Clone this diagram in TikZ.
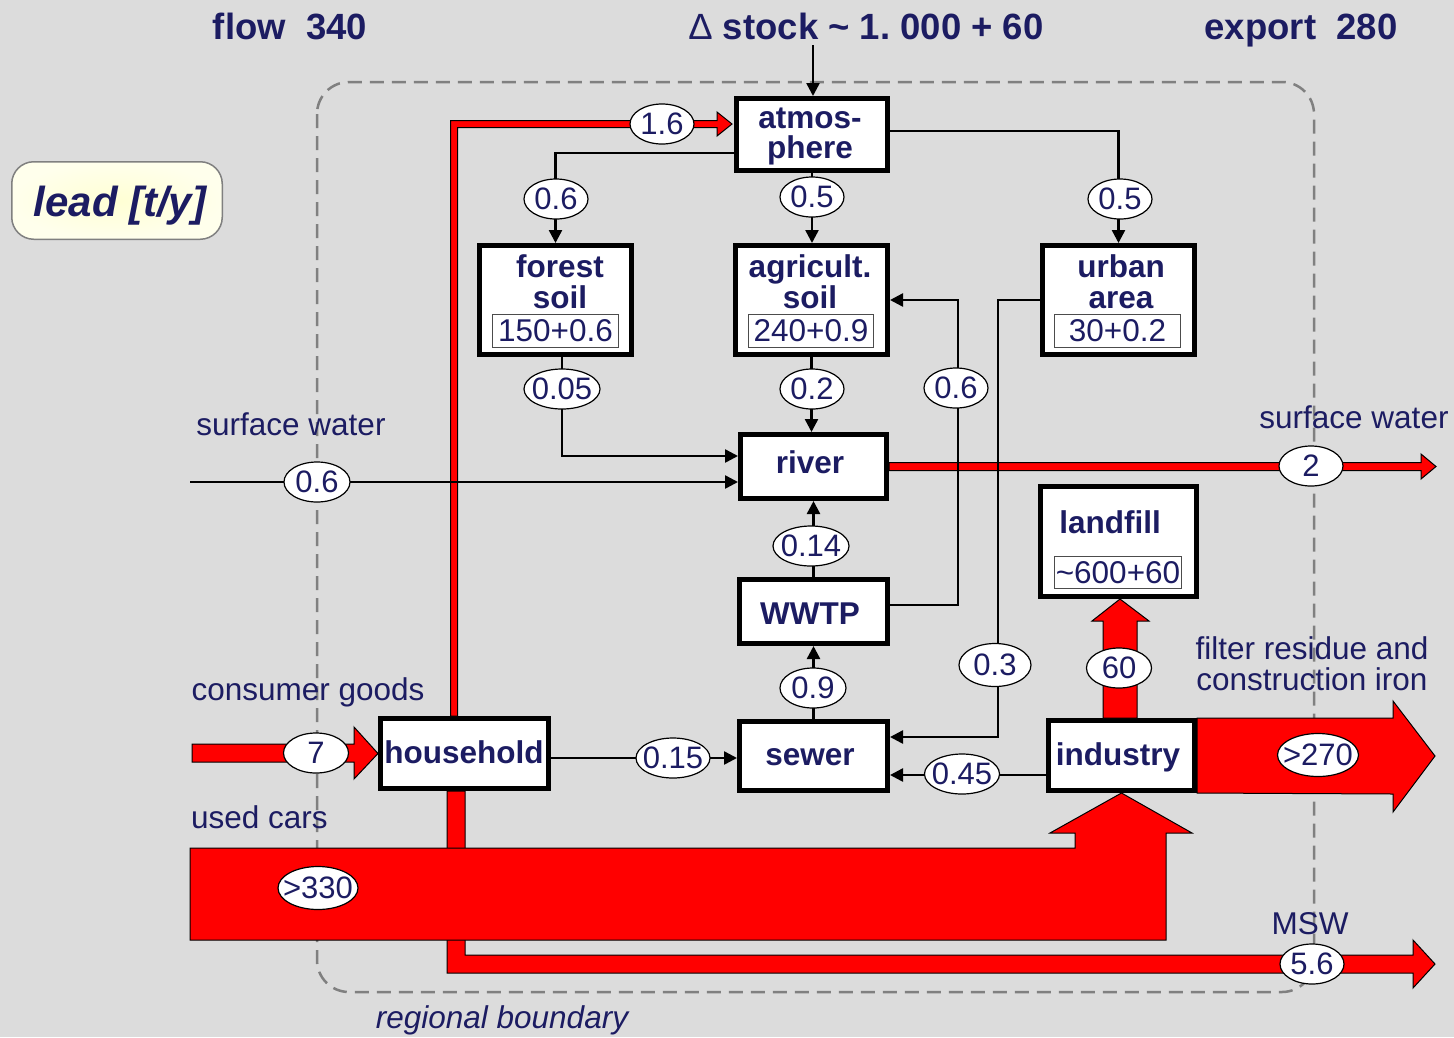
\documentclass[tikz,border=0pt]{standalone}
\usepackage{fontspec}
\setmainfont{Liberation Sans}
\usetikzlibrary{arrows.meta,shapes.geometric,calc}
\definecolor{navy}{RGB}{28,28,98}
\definecolor{bggray}{RGB}{220,220,220}
\definecolor{bndgray}{RGB}{128,128,128}
\definecolor{leadfill}{RGB}{255,255,212}
\definecolor{leadedge}{RGB}{255,255,236}
\newcommand\fsz[1]{\fontsize{#1}{#1}\selectfont}
\newcommand\zw[1]{\makebox[0pt]{#1}}
\begin{document}
\begin{tikzpicture}[x=1pt,y=-1pt,
  box/.style={draw=black, line width=5pt, fill=white, inner sep=0pt},
  vbox/.style={draw=black!70, line width=1.2pt, fill=white, inner sep=0pt, text=navy, font=\fsz{31.5}},
  lbl/.style={text=navy, font=\bfseries\fsz{31.5}, inner sep=0pt, anchor=base},
  txt/.style={text=navy, font=\fsz{31.5}, inner sep=0pt, anchor=base},
  ttl/.style={text=navy, font=\bfseries\fsz{36.5}, inner sep=0pt, anchor=base},
  val/.style={ellipse, draw=black, line width=1.2pt, fill=white, inner sep=0pt, minimum height=40pt, minimum width=#1, text=navy, font=\fsz{31}},
  val/.default=64pt,
  flow/.style={draw=black, line width=2.5pt, -{Triangle[length=13pt,width=13pt]}},
  redflow/.style={fill=red, draw=black, line width=1pt, line join=miter}]
\fill[bggray] (0,0) rectangle (1454,1037);
\useasboundingbox (0,0) rectangle (1454,1037);

% regional boundary
\draw[bndgray, line width=2.5pt, dash pattern=on 14pt off 8pt, rounded corners=32pt] (317,82) rectangle (1314,992);

% titles
\node[ttl] (tflow) at (290,39) {flow\ \ 340};
\node[ttl] (tstock) at (866,39) {{\mdseries Δ} stock \textasciitilde{} 1.\ 000 + 60};
\node[ttl] (texport) at (1301,39) {export\ \ 280};

% lead box
\node[draw=bndgray, line width=1.5pt, rounded corners=22pt, inner color=leadfill, outer color=leadedge, minimum width=210.5pt, minimum height=77.5pt] (leadbox) at (117,200.5) {};
\node[anchor=base, inner sep=0pt, text=navy, font=\bfseries\itshape\fsz{42}] (lead) at (120,216) {lead [t/y]};

% process boxes
\node[box, minimum width=151pt, minimum height=72pt] (atm) at (812,134.5) {};
\node[box, minimum width=152pt, minimum height=109pt] (forest) at (555.5,300) {};
\node[box, minimum width=152pt, minimum height=109pt] (agri) at (811.5,300) {};
\node[box, minimum width=152pt, minimum height=109pt] (urban) at (1118.5,300) {};
\node[box, minimum width=146pt, minimum height=64pt] (river) at (813.5,466.5) {};
\node[box, minimum width=148pt, minimum height=64pt] (wwtp) at (813.5,611.5) {};
\node[box, minimum width=148pt, minimum height=69pt] (sewer) at (813.5,756) {};
\node[box, minimum width=146pt, minimum height=70pt] (industry) at (1121.5,755.5) {};
\node[box, minimum width=168pt, minimum height=70pt] (household) at (464.5,753.5) {};
\node[box, minimum width=156pt, minimum height=110pt] (landfill) at (1118.5,541.5) {};

% box labels
\node[lbl] (atmT1) at (810,128) {atmos-};
\node[lbl] (atmT2) at (810,158) {phere};
\node[lbl] (forT1) at (560,277) {forest};
\node[lbl] (forT2) at (560,308) {soil};
\node[lbl] (agrT1) at (810,277) {agricult.};
\node[lbl] (agrT2) at (810,308) {soil};
\node[lbl] (urbT1) at (1121,277) {urban};
\node[lbl] (urbT2) at (1121,308) {area};
\node[lbl] (rivT) at (810,473) {river};
\node[lbl] (wwtT) at (810,624) {WWTP};
\node[lbl] (sewT) at (810,765) {sewer};
\node[lbl] (indT) at (1118,765) {industry};
\node[lbl] (houT) at (464,763) {household};
\node[lbl] (lanT) at (1110,533) {landfill};

% stock boxes
\node[vbox, minimum width=126pt, minimum height=33pt] (forV) at (555.5,331) {150+0.6};
\node[vbox, minimum width=125pt, minimum height=33pt] (agrV) at (811,331) {240+0.9};
\node[vbox, minimum width=126pt, minimum height=33pt] (urbV) at (1117.5,331) {30+0.2};
\node[vbox, minimum width=127pt, minimum height=32pt] (lanV) at (1118,572.5) {\textasciitilde600+60};

% free texts
\node[txt] (swL) at (291,435) {surface water};
\node[txt] (swR) at (1354,428) {surface water};
\node[txt] (cg) at (308,700) {consumer goods};
\node[txt, anchor=base west] (uc) at (191,828) {used cars};
\node[txt] (fr1) at (1312,659) {filter residue and};
\node[txt] (fr2) at (1312,690) {construction iron};
\node[txt] (msw) at (1310,934) {MSW};
\node[txt, font=\itshape\fsz{31.5}] (rb) at (502,1028) {regional boundary};

% red flows
\filldraw[redflow] (household.south -| 447,0) -- (447,973) -- (1413,973) -- (1413,988) -- (1435,964) -- (1413,940) -- (1413,955) -- (465,955) -- (household.south -| 465,0) -- cycle;
\filldraw[redflow] (190,848) -- (1075,848) -- (1075,833) -- (1050,833) -- (industry.south) -- (1192,833) -- (1166,833) -- (1166,940) -- (190,940) -- cycle;
\filldraw[redflow] (192,744) -- (354,744) -- (354,727) -- (household.west) -- (354,779) -- (354,762) -- (192,762) -- cycle;
\filldraw[redflow] (industry.north east) -- (1393,718) -- (1393,701) -- (1435,756) -- (1393,812) -- (1393,794) -- (industry.south east) -- cycle;
\filldraw[redflow] (industry.north -| 1103,0) -- (1103,621) -- (1092,621) -- (landfill.south -| 1120,0) -- (1149,621) -- (1137,621) -- (industry.north -| 1137,0) -- cycle;
\filldraw[redflow] (household.north -| 450.5,0) -- (450.5,120.5) -- (717,120.5) -- (717,112) -- (732,124) -- (717,136) -- (717,127.5) -- (457.5,127.5) -- (household.north -| 457.5,0) -- cycle;
\filldraw[redflow] (river.east |- 0,462.5) -- (1421,462.5) -- (1421,454) -- (1436,466.5) -- (1421,479) -- (1421,470.5) -- (river.east |- 0,470.5) -- cycle;

% black flows
\coordinate (stockin) at (813,45);
\draw[flow] (stockin) -- (stockin |- atm.north);
\draw[flow] (atm.west |- 0,153) -| (forest.north);
\draw[flow] (atm.south) -- (atm.south |- agri.north);
\draw[flow] (atm.east |- 0,131) -| (urban.north);
\draw[flow] (forest.south -| 562,0) |- (river.west |- 0,456);
\draw[flow] (agri.south) -- (agri.south |- river.north);
\coordinate (swin) at (190,482);
\draw[flow] (swin) -- (swin -| river.west);
\draw[flow] (wwtp.east |- 0,605) -| (958,300) -- (agri.east);
\draw[flow] (urban.west) -| (998,737) -- (sewer.east |- 0,737);
\draw[flow] (wwtp.north) -- (river.south);
\draw[flow] (sewer.north) -- (wwtp.south);
\draw[flow] (household.east |- 0,758) -- (sewer.west |- 0,758);
\draw[flow] (industry.west |- 0,775) -- (sewer.east |- 0,775);

% values
\node[val] (e16) at (662,124) {\zw{1.6}};
\node[val] (e06a) at (556,199) {\zw{0.6}};
\node[val] (e05a) at (812,197) {\zw{0.5}};
\node[val] (e05b) at (1120,199) {\zw{0.5}};
\node[val=76pt] (e005) at (562,389) {\zw{0.05}};
\node[val] (e02) at (812,389) {\zw{0.2}};
\node[val] (e06b) at (956,388) {\zw{0.6}};
\node[val=66pt] (e06c) at (317,482) {\zw{0.6}};
\node[val] (e2) at (1311,466) {\zw{2}};
\node[val=76pt] (e014) at (811,546) {\zw{0.14}};
\node[val=66pt] (e09) at (813,688) {\zw{0.9}};
\node[val=72pt, minimum height=43pt] (e03) at (995,665) {\zw{0.3}};
\node[val=65pt] (e60) at (1119,668) {\zw{60}};
\node[val=65pt] (e7) at (316,753) {\zw{7}};
\node[val=74pt] (e015) at (673,758) {\zw{0.15}};
\node[val=75pt] (e045) at (962,774) {\zw{0.45}};
\node[val=81pt, minimum height=43pt] (e270) at (1318,755) {\zw{>270}};
\node[val=80pt, minimum height=43pt] (e330) at (318,888) {\zw{>330}};
\node[val] (e56) at (1312,964) {\zw{5.6}};
\end{tikzpicture}
\end{document}
